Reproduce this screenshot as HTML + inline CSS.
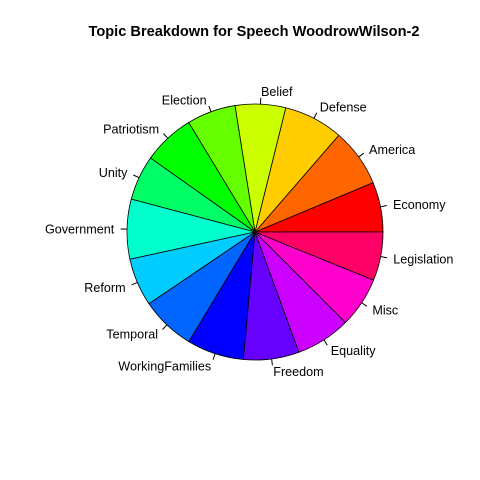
<!DOCTYPE html>
<html><head><meta charset="utf-8"><style>body{margin:0;background:#fff}svg{display:block}</style></head>
<body>
<svg id="chart" width="480" height="480" xmlns="http://www.w3.org/2000/svg" font-family="Liberation Sans, sans-serif">
<rect width="480" height="480" fill="#fff"/>
<text x="254" y="36" text-anchor="middle" font-weight="bold" font-size="14.6">Topic Breakdown for Speech WoodrowWilson-2</text>
<g id="slices"></g>
</svg>
<script>
const categories = ["Economy","America","Defense","Belief","Election","Patriotism","Unity","Government","Reform","Temporal","WorkingFamilies","Freedom","Equality","Misc","Legislation"];
const values = [22.7,26.4,27.0,22.9,22.2,23.5,20.4,27.2,21.8,24.8,25.9,25.3,24.9,22.9,22.1];
const colors = ["#FF0000","#FF6600","#FFCC00","#CCFF00","#66FF00","#00FF00","#00FF66","#00FFCC","#00CCFF","#0066FF","#0000FF","#6600FF","#CC00FF","#FF00CC","#FF0066"];
const cx=255, cy=232, r=128;
const g=document.getElementById('slices');
const NS="http://www.w3.org/2000/svg";
const total=values.reduce((a,b)=>a+b,0);
let acc=0;
function pt(a,rr){return [cx+rr*Math.cos(a), cy-rr*Math.sin(a)];}
values.forEach((v,i)=>{
  const a0=acc/total*2*Math.PI; acc+=v; const a1=acc/total*2*Math.PI;
  const p0=pt(a0,r), p1=pt(a1,r);
  const large=(a1-a0)>Math.PI?1:0;
  const p=document.createElementNS(NS,'path');
  p.setAttribute('d',`M${cx},${cy} L${p0[0]},${p0[1]} A${r},${r} 0 ${large} 0 ${p1[0]},${p1[1]} Z`);
  p.setAttribute('fill',colors[i]); p.setAttribute('stroke','#000'); p.setAttribute('stroke-width','0.8');
  
  
  g.appendChild(p);
  const am=(a0+a1)/2;
  const t0=pt(am,r), t1=pt(am,r*1.05), tl=pt(am,r*1.1);
  const ln=document.createElementNS(NS,'line');
  ln.setAttribute('x1',t0[0]);ln.setAttribute('y1',t0[1]);ln.setAttribute('x2',t1[0]);ln.setAttribute('y2',t1[1]);
  ln.setAttribute('stroke','#000');
  
  
  g.appendChild(ln);
  const tx=document.createElementNS(NS,'text');
  tx.setAttribute('x',tl[0]);tx.setAttribute('y',tl[1]+4.5);
  tx.setAttribute('font-size','12.6');
  tx.setAttribute('text-anchor',Math.cos(am)>0?'start':'end');
  tx.textContent=categories[i];
  
  
  g.appendChild(tx);
});
</script>
</body></html>
